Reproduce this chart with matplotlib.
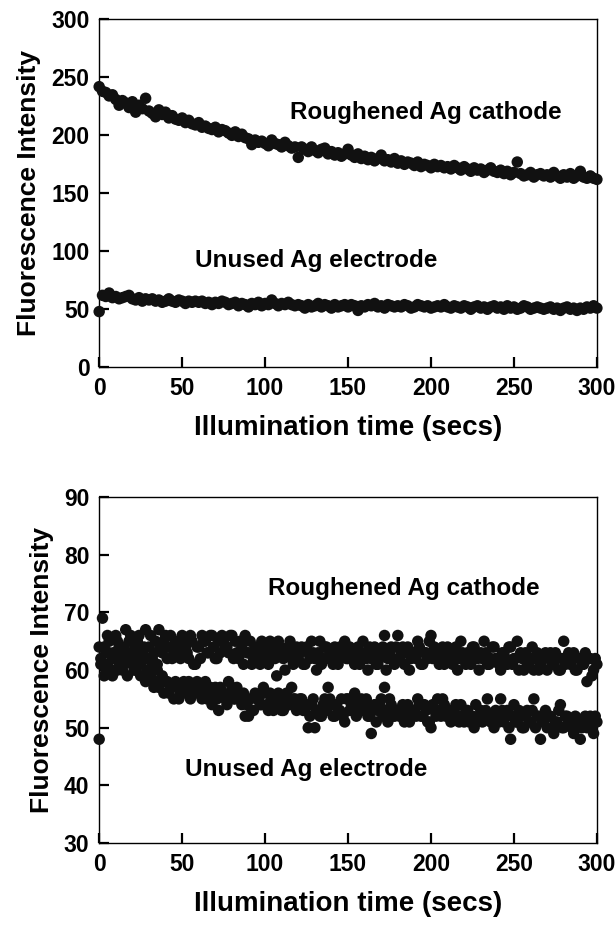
import matplotlib
matplotlib.use("Agg")
import matplotlib.pyplot as plt
import numpy as np

plt.rcParams['font.family'] = ['Liberation Sans', 'DejaVu Sans']
plt.rcParams['font.weight'] = 'bold'

# time axis, one reading every 2 secs (odd seconds kept separately for lower panel)
time_s = np.arange(0, 301, 2)
time_odd = np.arange(1, 300, 2)

# top panel
top_roughened = [
    242, 238, 237, 234, 235, 231, 226, 230, 228, 224, 229, 220, 226, 223, 232,
    221, 219, 216, 222, 218, 220, 215, 217, 214, 213, 215, 211, 213, 210, 209,
    211, 207, 208, 206, 205, 207, 203, 205, 204, 202, 200, 203, 199, 201, 198,
    197, 192, 196, 194, 195, 193, 191, 196, 193, 192, 190, 194, 191, 189, 190,
    181, 190, 188, 186, 190, 187, 185, 188, 189, 184, 186, 183, 185, 182, 184,
    188, 183, 181, 184, 180, 182, 179, 181, 178, 180, 183, 178, 179, 177, 180,
    176, 178, 175, 177, 176, 174, 177, 173, 175, 174, 172, 175, 173, 174, 172,
    173, 171, 174, 172, 170, 173, 171, 169, 172, 170, 171, 168, 170, 172, 169,
    168, 170, 167, 169, 166, 168, 177, 167, 165, 166, 168, 164, 166, 167, 165,
    166, 164, 168, 165, 163, 166, 164, 167, 163, 165, 169, 164, 163, 165, 163,
    162]
top_unused = [
    48, 62, 61, 64, 60, 61, 59, 60, 61, 62, 59, 58, 60, 57, 59,
    58, 59, 57, 58, 56, 57, 59, 57, 56, 58, 57, 55, 57, 56, 57,
    56, 57, 55, 56, 54, 56, 55, 57, 56, 54, 55, 56, 53, 55, 54,
    52, 55, 54, 56, 53, 55, 54, 58, 55, 53, 55, 54, 56, 54, 53,
    54, 53, 51, 54, 52, 53, 55, 52, 54, 53, 51, 54, 52, 53, 54,
    52, 54, 53, 49, 53, 52, 54, 53, 55, 52, 53, 51, 54, 53, 52,
    53, 52, 54, 53, 51, 52, 54, 53, 52, 53, 51, 52, 53, 52, 54,
    52, 51, 53, 52, 51, 53, 52, 50, 52, 53, 51, 52, 50, 52, 53,
    51, 52, 50, 53, 51, 52, 50, 51, 53, 52, 50, 51, 52, 51, 50,
    51, 52, 50, 51, 49, 51, 52, 50, 51, 49, 51, 50, 52, 51, 53,
    51]

# bottom panel, even seconds
bot_roughened = [
    64, 69, 63, 65, 62, 66, 64, 63, 67, 65, 62, 64, 66, 63, 67,
    64, 62, 65, 67, 63, 66, 64, 62, 65, 63, 66, 64, 62, 65, 61,
    64, 66, 65, 63, 66, 62, 65, 66, 64, 63, 66, 65, 62, 64, 66,
    63, 61, 64, 62, 65, 63, 61, 64, 62, 65, 63, 60, 64, 62, 63,
    62, 64, 61, 63, 65, 62, 63, 61, 64, 62, 63, 64, 61, 63, 65,
    62, 63, 61, 64, 62, 63, 60, 62, 64, 61, 63, 66, 62, 64, 61,
    66, 63, 61, 64, 62, 63, 65, 61, 63, 62, 66, 64, 62, 63, 61,
    64, 62, 63, 60, 65, 62, 63, 61, 64, 62, 63, 65, 61, 62, 64,
    62, 60, 63, 61, 64, 62, 65, 63, 60, 61, 62, 60, 63, 61, 62,
    60, 63, 61, 62, 60, 65, 62, 61, 63, 60, 62, 61, 58, 62, 60,
    61]
bot_unused = [
    48, 61, 60, 63, 59, 62, 61, 60, 62, 63, 61, 60, 62, 59, 58,
    60, 61, 58, 57, 59, 58, 56, 57, 58, 55, 57, 56, 58, 57, 56,
    57, 55, 58, 56, 54, 57, 53, 56, 55, 58, 57, 55, 56, 54, 52,
    52, 53, 56, 55, 54, 56, 53, 55, 54, 56, 53, 55, 54, 57, 55,
    54, 55, 53, 50, 54, 50, 53, 52, 55, 57, 54, 52, 53, 55, 51,
    55, 54, 56, 53, 55, 54, 52, 49, 54, 53, 55, 57, 51, 54, 52,
    53, 52, 51, 54, 52, 53, 55, 52, 54, 51, 50, 53, 55, 52, 54,
    52, 51, 53, 52, 54, 51, 53, 52, 50, 51, 53, 52, 55, 51, 50,
    52, 55, 51, 53, 48, 54, 51, 52, 50, 53, 51, 55, 52, 48, 51,
    50, 52, 49, 51, 54, 50, 52, 51, 49, 50, 48, 51, 50, 52, 49,
    51]

# bottom panel, odd seconds
bot_roughened_odd = [
    61, 64, 66, 60, 63, 65, 61, 64, 62, 66, 63, 65, 61, 64, 62,
    66, 63, 61, 64, 65, 62, 66, 63, 64, 62, 65, 63, 66, 61, 64,
    62, 65, 63, 66, 64, 62, 63, 65, 64, 66, 62, 63, 65, 61, 63,
    65, 62, 63, 61, 64, 62, 65, 63, 59, 64, 62, 63, 65, 61, 64,
    63, 61, 64, 62, 63, 60, 65, 62, 64, 63, 61, 62, 64, 63, 62,
    64, 62, 63, 61, 65, 62, 64, 63, 61, 62, 64, 60, 63, 62, 64,
    62, 64, 63, 60, 63, 62, 64, 61, 63, 65, 62, 63, 61, 64, 62,
    63, 61, 64, 62, 63, 61, 62, 64, 63, 60, 62, 63, 61, 64, 62,
    61, 63, 62, 64, 61, 62, 60, 62, 63, 61, 64, 62, 60, 62, 63,
    62, 61, 63, 60, 62, 61, 63, 62, 60, 62, 61, 63, 62, 59, 62]
bot_unused_odd = [
    62, 59, 61, 60, 63, 60, 62, 61, 59, 62, 60, 61, 59, 62, 60,
    59, 57, 60, 58, 56, 58, 57, 55, 57, 56, 58, 57, 55, 56, 58,
    56, 57, 55, 57, 56, 55, 57, 56, 54, 56, 55, 57, 55, 56, 54,
    55, 53, 55, 54, 57, 54, 56, 53, 55, 54, 53, 56, 54, 55, 53,
    55, 53, 54, 52, 55, 53, 52, 54, 53, 55, 52, 54, 53, 52, 55,
    53, 55, 52, 54, 53, 55, 52, 53, 51, 54, 52, 53, 55, 52, 53,
    52, 54, 53, 51, 53, 52, 54, 52, 53, 51, 54, 52, 53, 55, 52,
    53, 52, 54, 51, 52, 53, 51, 52, 54, 52, 51, 53, 52, 51, 53,
    51, 53, 52, 50, 52, 51, 53, 50, 52, 51, 53, 50, 52, 51, 53,
    52, 50, 51, 53, 50, 52, 51, 50, 52, 51, 50, 52, 51, 50, 52]

fig = plt.figure(figsize=(6.16, 9.25), dpi=100)
ax1 = fig.add_axes([0.161, 0.603, 0.808, 0.376])
ax2 = fig.add_axes([0.161, 0.0886, 0.808, 0.374])

dot = dict(s=68, color='#111111', edgecolors='none', clip_on=False, zorder=3)


def style_axes(ax, ylim, yticks):
    ax.set_xlim(0, 300)
    ax.set_ylim(*ylim)
    ax.set_xticks(range(0, 301, 50))
    ax.set_yticks(yticks)
    ax.tick_params(direction='in', length=7, width=1.6, labelsize=16.5, pad=7)
    for s in ax.spines.values():
        s.set_linewidth(1.0)
    ax.set_xlabel("Illumination time (secs)", fontsize=20, fontweight='bold', labelpad=11)
    ax.set_ylabel("Fluorescence Intensity", fontsize=19, fontweight='bold', labelpad=7)


ax1.scatter(time_s, top_roughened, **dot)
ax1.scatter(time_s, top_unused, **dot)
style_axes(ax1, (0, 300), range(0, 301, 50))
ax1.text(115, 220, "Roughened Ag cathode", fontsize=17.5, fontweight='bold', va='center')
ax1.text(58, 92, "Unused Ag electrode", fontsize=17.5, fontweight='bold', va='center')

ax2.scatter(time_s, bot_roughened, **dot)
ax2.scatter(time_odd, bot_roughened_odd, **dot)
ax2.scatter(time_s, bot_unused, **dot)
ax2.scatter(time_odd, bot_unused_odd, **dot)
style_axes(ax2, (30, 90), range(30, 91, 10))
ax2.text(102, 74.2, "Roughened Ag cathode", fontsize=17.5, fontweight='bold', va='center')
ax2.text(52, 42.7, "Unused Ag electrode", fontsize=17.5, fontweight='bold', va='center')

fig.savefig("out.png", dpi=100)
